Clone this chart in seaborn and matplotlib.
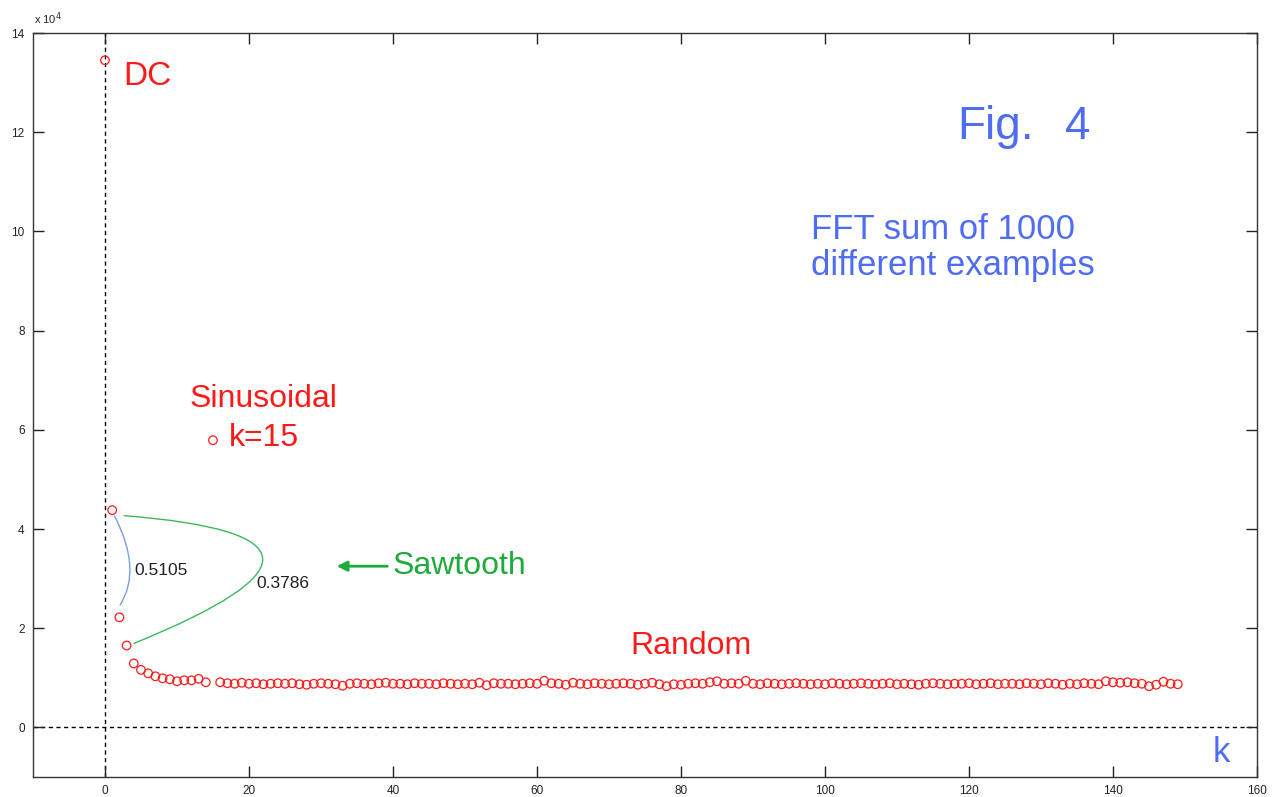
import numpy as np
import pandas as pd
import matplotlib
matplotlib.use("Agg")
import matplotlib.pyplot as plt
import seaborn as sns
from matplotlib.path import Path
from matplotlib.patches import PathPatch

sns.set_style("ticks")
plt.rcParams['font.family'] = ['Liberation Sans', 'DejaVu Sans']

# ---- data (values in units of 1e4) ----
k_head = [0, 1, 2, 3, 4, 5, 6, 7, 8, 9, 10, 11, 12, 13, 14, 15]
v_head = [13.45, 4.38, 2.22, 1.65, 1.29, 1.16, 1.09, 1.03, 0.99, 0.97, 0.93, 0.95, 0.95, 0.98, 0.91, 5.79]
k_tail = list(range(16, 150))
v_tail = [
    0.91, 0.89, 0.88, 0.90, 0.88, 0.89, 0.87, 0.88, 0.89, 0.88,   # 16-25
    0.89, 0.87, 0.86, 0.88, 0.89, 0.88, 0.87, 0.84, 0.88, 0.89,   # 26-35
    0.88, 0.87, 0.89, 0.90, 0.88, 0.88, 0.87, 0.89, 0.88, 0.88,   # 36-45
    0.87, 0.89, 0.88, 0.87, 0.88, 0.87, 0.90, 0.85, 0.89, 0.88,   # 46-55
    0.88, 0.87, 0.88, 0.89, 0.88, 0.94, 0.89, 0.88, 0.86, 0.90,   # 56-65
    0.88, 0.87, 0.89, 0.88, 0.87, 0.88, 0.89, 0.88, 0.86, 0.88,   # 66-75
    0.90, 0.87, 0.83, 0.87, 0.86, 0.88, 0.89, 0.88, 0.91, 0.93,   # 76-85
    0.88, 0.89, 0.88, 0.94, 0.88, 0.87, 0.89, 0.88, 0.87, 0.88,   # 86-95
    0.89, 0.88, 0.87, 0.88, 0.87, 0.89, 0.88, 0.87, 0.88, 0.89,   # 96-105
    0.88, 0.87, 0.88, 0.89, 0.87, 0.88, 0.87, 0.86, 0.88, 0.89,   # 106-115
    0.88, 0.87, 0.88, 0.88, 0.89, 0.87, 0.88, 0.89, 0.87, 0.88,   # 116-125
    0.88, 0.87, 0.89, 0.88, 0.87, 0.89, 0.88, 0.86, 0.88, 0.87,   # 126-135
    0.89, 0.88, 0.87, 0.93, 0.91, 0.90, 0.91, 0.89, 0.88, 0.83,   # 136-145
    0.86, 0.92, 0.88, 0.87,                                       # 146-149
]
df = pd.DataFrame({"k": k_head + k_tail, "v": v_head + v_tail})

# arc annotation anchors: start, bulge point, end (k, value)
blue_arc = [(1.3, 4.27), (3.45, 3.27), (2.06, 2.46)]
green_arc = [(2.6, 4.27), (21.9, 3.41), (3.95, 1.69)]
arrow_from = (39.6, 3.25)
arrow_to = (31.8, 3.25)

RED = "#ff1a1a"
BLUE = "#4f6cf5"
GREEN = "#1faa3c"

fig = plt.figure(figsize=(12.85, 7.97), dpi=100)
ax = fig.add_axes([33/1285, 20/797, (1257-33)/1285, (777-33)/797])

sns.scatterplot(data=df, x="k", y="v", ax=ax, marker="o", s=38,
                facecolors="none", edgecolor=RED, linewidth=0.9, legend=False)

ax.axvline(0, color="black", lw=1.0, ls=(0, (3, 2.5)), zorder=0)
ax.axhline(0, color="black", lw=1.0, ls=(0, (3, 2.5)), zorder=0)

def arc(points, color):
    (x0, y0), (xm, ym), (x2, y2) = points
    cx = 2 * xm - 0.5 * (x0 + x2)
    cy = 2 * ym - 0.5 * (y0 + y2)
    p = Path([(x0, y0), (cx, cy), (x2, y2)], [Path.MOVETO, Path.CURVE3, Path.CURVE3])
    ax.add_patch(PathPatch(p, fc="none", ec=color, lw=1.0))

arc(blue_arc, "#7a9fd8")
arc(green_arc, "#3cb85a")

ax.annotate("", xy=arrow_to, xytext=arrow_from,
            arrowprops=dict(arrowstyle="-|>,head_length=0.6,head_width=0.3", color=GREEN, lw=2))

ax.set_xlim(-10, 160)
ax.set_ylim(-1, 14)
ax.set_xticks(np.arange(0, 161, 20))
ax.set_yticks(np.arange(0, 15, 2))
ax.tick_params(direction="in", length=8, width=1, top=True, right=True,
               labelsize=8.5, colors="#222222", pad=6)
for s in ax.spines.values():
    s.set_color("#333333")
    s.set_linewidth(1.0)
    s.set_visible(True)
ax.set_xlabel("")
ax.set_ylabel("")

ax.text(-9.8, 14.12, r"x 10$^4$", fontsize=8, color="#222222", ha="left", va="bottom")

ax.text(2.57, 13.13, "DC", fontsize=24, color=RED, ha="left", va="center")
ax.text(11.7, 6.63, "Sinusoidal", fontsize=23, color=RED, ha="left", va="center")
ax.text(17.15, 5.83, "k=15", fontsize=23, color=RED, ha="left", va="center")
ax.text(39.9, 3.25, "Sawtooth", fontsize=23, color=GREEN, ha="left", va="center")
ax.text(73.0, 1.65, "Random", fontsize=23, color=RED, ha="left", va="center")
ax.text(118.3, 12.1, "Fig.", fontsize=33, color=BLUE, ha="left", va="center")
ax.text(133.4, 12.1, "4", fontsize=33, color=BLUE, ha="left", va="center")
ax.text(98.1, 9.68, "FFT sum of 1000\ndifferent examples", fontsize=25, color=BLUE,
        ha="left", va="center", linespacing=1.12)
ax.text(4.1, 3.17, "0.5105", fontsize=12.5, color="#222222", ha="left", va="center")
ax.text(21.0, 2.90, "0.3786", fontsize=12.5, color="#222222", ha="left", va="center")
ax.text(153.9, -0.5, "k", fontsize=25, color=BLUE, ha="left", va="center")

fig.savefig("out.png", dpi=100)
